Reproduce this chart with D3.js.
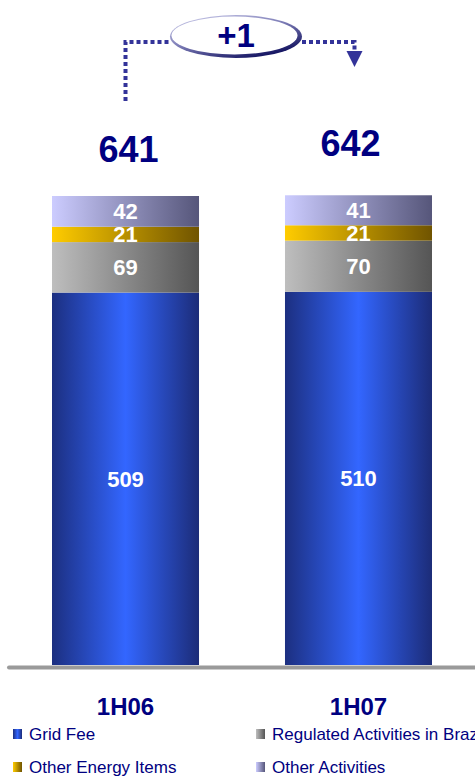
<!DOCTYPE html>
<html>
<head>
<meta charset="utf-8">
<script src="https://cdn.jsdelivr.net/npm/d3@7"></script>
<style>
  html, body { margin: 0; padding: 0; background: #fff; }
  svg { display: block; font-family: "Liberation Sans", Arial, sans-serif; }
</style>
</head>
<body>
<svg id="chart" width="475" height="778"></svg>
<script>
// Revenue breakdown by period
const categories = ["1H06", "1H07"];
const seriesNames = ["Grid Fee", "Regulated Activities in Brazil", "Other Energy Items", "Other Activities"];
const gridFee = [509, 510];
const regulatedBrazil = [69, 70];
const otherEnergy = [21, 21];
const otherActivities = [42, 41];
const totals = [641, 642];
const changeLabel = "+1";

const seriesValues = [gridFee, regulatedBrazil, otherEnergy, otherActivities];

// Horizontal gradients for each series (light/dark shading across the bar)
const gradientStops = [
  [[0, "#1c2f80"], [0.5, "#3366ff"], [1, "#1c2c78"]],
  [[0, "#bebebe"], [1, "#555555"]],
  [[0, "#ffcc00"], [1, "#705400"]],
  [[0, "#ccccff"], [1, "#56567a"]]
];

const navy = "#000080";
const svg = d3.select("#chart");
const defs = svg.append("defs");

gradientStops.forEach((stops, i) => {
  const g = defs.append("linearGradient")
    .attr("id", "grad" + i)
    .attr("x1", "0%").attr("x2", "100%").attr("y1", "0%").attr("y2", "0%");
  stops.forEach(s => g.append("stop").attr("offset", s[0]).attr("stop-color", s[1]));
});

// Scales
const x = d3.scaleBand().domain(categories).range([52, 432]).paddingInner(0.369).paddingOuter(0);
const y = d3.scaleLinear().domain([0, 700]).range([665, 665 - 700 * (469 / 641)]);

// Stack the series
const rows = categories.map((c, i) => {
  const r = { cat: c };
  seriesNames.forEach((s, j) => r[s] = seriesValues[j][i]);
  return r;
});
const stacked = d3.stack().keys(seriesNames)(rows);

const layers = svg.append("g").selectAll("g")
  .data(stacked)
  .join("g")
  .attr("fill", (d, i) => `url(#grad${i})`);

layers.selectAll("rect")
  .data(d => d)
  .join("rect")
  .attr("x", d => x(d.data.cat))
  .attr("width", x.bandwidth())
  .attr("y", d => y(d[1]))
  .attr("height", d => y(d[0]) - y(d[1]));

// Segment value labels
const labelLayers = svg.append("g").selectAll("g")
  .data(stacked)
  .join("g");

labelLayers.selectAll("text")
  .data(d => d.map(v => ({ v, key: d.key })))
  .join("text")
  .attr("x", d => x(d.v.data.cat) + x.bandwidth() / 2)
  .attr("y", d => (y(d.v[0]) + y(d.v[1])) / 2 + 8)
  .attr("text-anchor", "middle")
  .attr("fill", "#fff")
  .attr("font-weight", "bold")
  .attr("font-size", 22)
  .text(d => d.v.data[d.key]);

// Baseline
svg.append("line")
  .attr("x1", 9).attr("x2", 480)
  .attr("y1", y(0) + 2.5).attr("y2", y(0) + 2.5)
  .attr("stroke", "#9a9a9a")
  .attr("stroke-width", 4)
  .attr("stroke-linecap", "round");

// Totals above bars
const totalOffsetsX = [3, -8];
const totalOffsetsY = [34, 39];
svg.append("g").selectAll("text")
  .data(totals)
  .join("text")
  .attr("x", (d, i) => x(categories[i]) + x.bandwidth() / 2 + totalOffsetsX[i])
  .attr("y", (d, i) => y(d) - totalOffsetsY[i])
  .attr("text-anchor", "middle")
  .attr("fill", navy)
  .attr("font-weight", "bold")
  .attr("font-size", 36)
  .text(d => d);

// Category labels
svg.append("g").selectAll("text")
  .data(categories)
  .join("text")
  .attr("x", d => x(d) + x.bandwidth() / 2)
  .attr("y", 715)
  .attr("text-anchor", "middle")
  .attr("fill", navy)
  .attr("font-weight", "bold")
  .attr("font-size", 24)
  .text(d => d);

// Change annotation: dotted connector with arrow and ellipse badge
const dotColor = "#333399";
const c1 = x(categories[0]) + x.bandwidth() / 2;
const c2 = x(categories[1]) + x.bandwidth() / 2;
const ell = { cx: 236, cy: 36.5, rx: 66, ry: 21.5 };

svg.append("path")
  .attr("d", `M${c1},101 V42 H${ell.cx - ell.rx}`)
  .attr("fill", "none")
  .attr("stroke", dotColor)
  .attr("stroke-width", 4)
  .attr("stroke-dasharray", "4,3");

svg.append("path")
  .attr("d", `M${ell.cx + ell.rx},42 H${c2 - 4} V52`)
  .attr("fill", "none")
  .attr("stroke", dotColor)
  .attr("stroke-width", 4)
  .attr("stroke-dasharray", "4,3");

svg.append("path")
  .attr("d", `M${c2 - 12},51 L${c2 + 4},51 L${c2 - 4},67 Z`)
  .attr("fill", dotColor);

const eg = defs.append("linearGradient")
  .attr("id", "ellGrad")
  .attr("x1", "0%").attr("y1", "0%").attr("x2", "70%").attr("y2", "100%");
eg.append("stop").attr("offset", 0).attr("stop-color", "#d4d4f0");
eg.append("stop").attr("offset", 0.5).attr("stop-color", "#7f7fb8");
eg.append("stop").attr("offset", 1).attr("stop-color", "#10105e");

svg.append("ellipse")
  .attr("cx", ell.cx).attr("cy", ell.cy)
  .attr("rx", ell.rx).attr("ry", ell.ry)
  .attr("fill", "url(#ellGrad)");

svg.append("ellipse")
  .attr("cx", ell.cx - 1.5).attr("cy", ell.cy - 1)
  .attr("rx", ell.rx - 3).attr("ry", ell.ry - 2.5)
  .attr("fill", "#fff");

svg.append("text")
  .attr("x", ell.cx)
  .attr("y", 47)
  .attr("text-anchor", "middle")
  .attr("fill", navy)
  .attr("font-weight", "bold")
  .attr("font-size", 33)
  .text(changeLabel);

// Legend
const legendPos = [[13, 729], [256, 729], [13, 762], [256, 762]];
const legend = svg.append("g").selectAll("g")
  .data(seriesNames)
  .join("g")
  .attr("transform", (d, i) => `translate(${legendPos[i][0]},${legendPos[i][1]})`);

legend.append("rect")
  .attr("width", 9).attr("height", 10)
  .attr("fill", (d, i) => `url(#grad${i})`);

legend.append("text")
  .attr("x", 16)
  .attr("y", 11)
  .attr("fill", navy)
  .attr("font-size", 17)
  .text(d => d);
</script>
</body>
</html>
